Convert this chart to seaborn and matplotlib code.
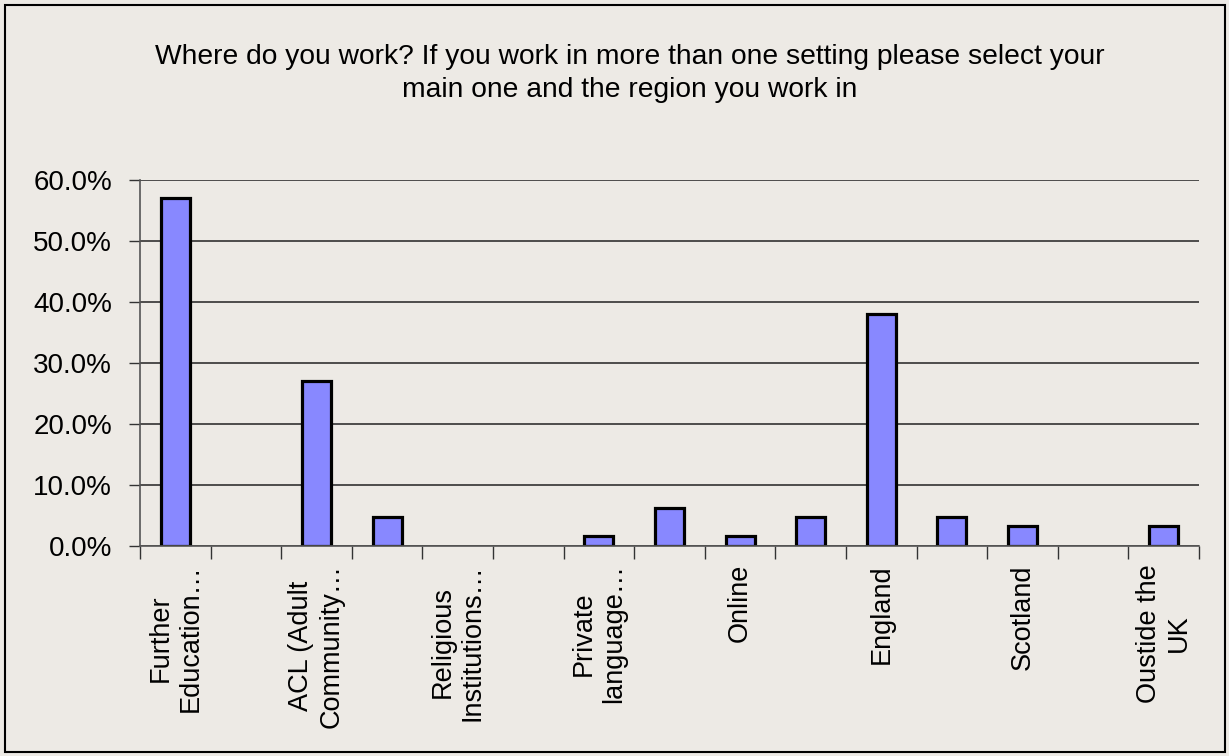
import matplotlib
matplotlib.use("Agg")
import matplotlib.pyplot as plt
from matplotlib.patches import Rectangle
from matplotlib.ticker import PercentFormatter, FixedLocator
import seaborn as sns
import pandas as pd

# answers in chart order; every other label is hidden on the axis in the original
categories = ["Further Education College", "setting 2", "ACL (Adult Community Learning)",
              "setting 4", "Religious Institutions", "setting 6", "Private language school",
              "setting 8", "Online", "region 10", "England", "region 12", "Scotland",
              "region 14", "Oustide the UK"]
values = [57.1, 0.0, 27.0, 4.8, 0.0, 0.0, 1.6, 6.3, 1.6, 4.8, 38.1, 4.8, 3.2, 0.0, 3.2]
tick_labels = ["Further\nEducation…", "", "ACL (Adult\nCommunity…", "", "Religious\nInstitutions…",
               "", "Private\nlanguage…", "", "Online", "", "England", "", "Scotland", "",
               "Oustide the\nUK"]
y_ticks = [0, 10, 20, 30, 40, 50, 60]
title = ("Where do you work? If you work in more than one setting please select your\n"
         "main one and the region you work in")

bg = "#EDEAE5"
sns.set_theme(style="white")
plt.rcParams['font.family'] = ['Liberation Sans', 'DejaVu Sans']

df = pd.DataFrame({"category": categories, "value": values})

fig = plt.figure(figsize=(12.29, 7.56), dpi=100, facecolor=bg)
ax = fig.add_axes([140/1229, 1-546/756, (1199-140)/1229, (546-180)/756])
ax.set_facecolor(bg)

sns.barplot(data=df, x="category", y="value", order=categories, width=0.41,
            color="#8888FF", edgecolor="black", linewidth=2.3, saturation=1, ax=ax)
# zero answers leave no visible bar in the original
for p in ax.patches:
    if p.get_height() == 0:
        p.set_visible(False)

ax.set_xlim(-0.5, len(categories) - 0.5)
ax.set_ylim(0, 60)
ax.set_yticks(y_ticks)
ax.yaxis.set_major_formatter(PercentFormatter(decimals=1))
ax.grid(axis="y", color="#222222", linewidth=1.1)
ax.set_axisbelow(True)

ax.set_xticks(range(len(categories)))
ax.set_xticklabels(tick_labels, rotation=90, ha="center", va="top", multialignment="center")
ax.xaxis.set_minor_locator(FixedLocator([i - 0.5 for i in range(len(categories) + 1)]))
ax.tick_params(axis="x", which="major", length=0, pad=13, labelsize=19.5, colors="black")
ax.tick_params(axis="x", which="minor", length=9, width=1, color="#333333", direction="out", bottom=True)
ax.tick_params(axis="y", length=8, width=1, color="#333333", direction="out", left=True,
               labelsize=20, pad=12, labelcolor="black")
ax.set_xlabel("")
ax.set_ylabel("")

for s in ["top", "right"]:
    ax.spines[s].set_visible(False)
for s in ["left", "bottom"]:
    ax.spines[s].set_color("#555555")
    ax.spines[s].set_linewidth(1.2)

fig.text(630/1229, 1-44/756, title, ha="center", va="top", fontsize=20.3, color="black",
         linespacing=1.33)

fig.patches.append(Rectangle((5/1229, 4/756), 1220/1229, 747/756, transform=fig.transFigure,
                             fill=False, edgecolor="black", linewidth=1.5))

fig.savefig("out.png", dpi=100, facecolor=bg)
